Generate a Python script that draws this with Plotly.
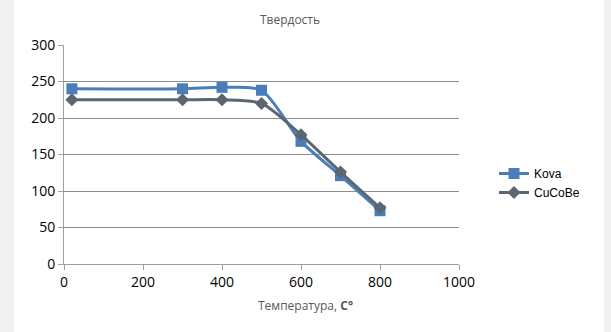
import plotly.graph_objects as go

temps = [20, 300, 400, 500, 600, 700, 800]
kova = [240, 240, 242, 238, 168, 121, 73]
cucobe = [225, 225, 225, 220, 177, 126, 77]

series_names = ["Kova", "CuCoBe"]
title_text = "Твердость"
x_title = "Температура, <b>С°</b>"

W, H = 611, 332
L, R, T, B = 64, 152, 45, 68
pw = W - L - R
ph = H - T - B

def px_x(p):
    return (p - L) / pw

def px_y(p):
    return (H - B - p) / ph

fig = go.Figure()
fig.add_trace(go.Scatter(
    x=temps, y=kova, name=series_names[0], mode="lines+markers",
    line=dict(color="#4A7EBB", width=3, shape="spline", smoothing=0.7),
    marker=dict(symbol="square", size=11, color="#4A7EBB"),
))
fig.add_trace(go.Scatter(
    x=temps, y=cucobe, name=series_names[1], mode="lines+markers",
    line=dict(color="#5B6670", width=3, shape="spline", smoothing=0.7),
    marker=dict(symbol="diamond", size=10, color="#5B6670"),
))

fig.add_shape(type="rect", xref="paper", yref="paper",
              x0=px_x(14), x1=px_x(604), y0=px_y(H + 5), y1=px_y(-5),
              fillcolor="white", line=dict(width=0), layer="below")

fig.add_annotation(text=x_title, xref="paper", yref="paper",
                   x=px_x(305), y=px_y(305), xanchor="center", yanchor="middle",
                   showarrow=False, font=dict(size=12, color="#595959"))

fig.update_layout(
    width=W, height=H,
    margin=dict(l=L, r=R, t=T, b=B),
    paper_bgcolor="#F0F0F0",
    plot_bgcolor="rgba(0,0,0,0)",
    font=dict(family="Open Sans, Liberation Sans, sans-serif", size=12, color="#000000"),
    title=dict(text=title_text, x=290 / W, xanchor="center",
               y=1 - 20 / H, yanchor="middle",
               font=dict(size=12, color="#595959")),
    showlegend=True,
    legend=dict(x=px_x(494), y=px_y(159), xanchor="left", yanchor="top",
                bgcolor="rgba(0,0,0,0)", itemwidth=30, tracegroupgap=6,
                font=dict(family="Liberation Sans, Arial, sans-serif", size=12, color="#000000")),
    xaxis=dict(range=[0, 1000], dtick=200, tick0=0, showgrid=False,
               showline=True, linecolor="#A0A0A0", linewidth=1,
               ticks="outside", ticklen=5, tickcolor="#A0A0A0",
               tickfont=dict(size=14), zeroline=False),
    yaxis=dict(range=[0, 300], dtick=50, tick0=0, showgrid=True,
               gridcolor="#8C8C8C", gridwidth=1,
               showline=True, linecolor="#A0A0A0", linewidth=1,
               ticks="outside", ticklen=5, tickcolor="#A0A0A0",
               tickfont=dict(size=14), zeroline=False),
)

fig.write_html("out.html", config={"displayModeBar": False},
               post_script="document.body.style.margin='0';document.body.style.overflow='hidden';")
